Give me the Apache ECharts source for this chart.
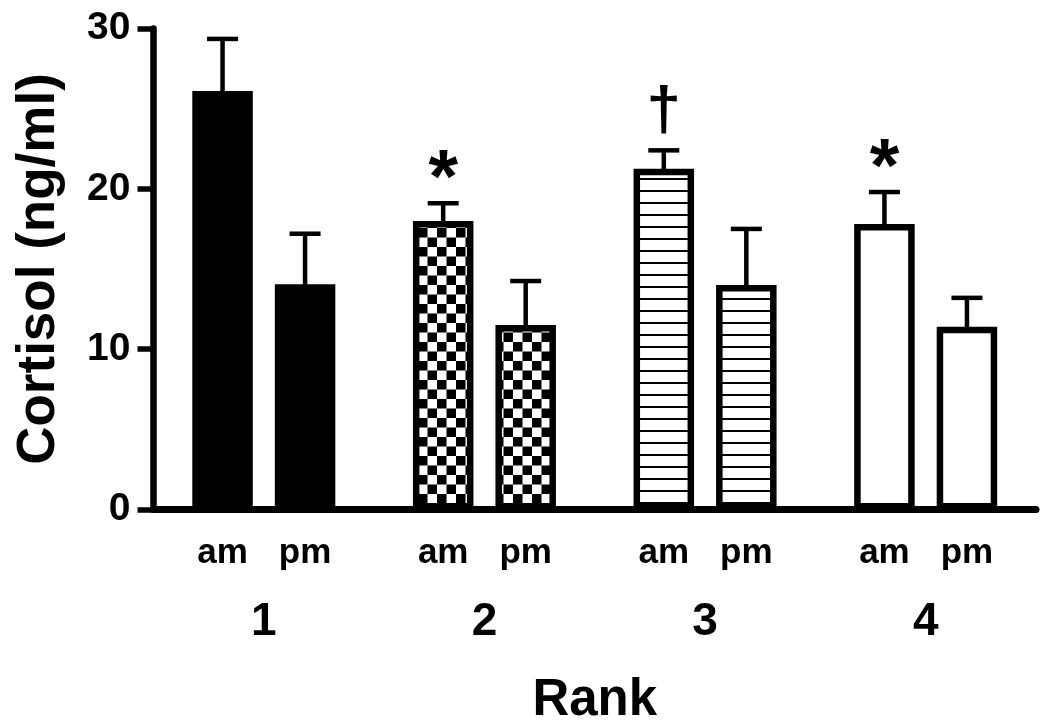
<!DOCTYPE html>
<html>
<head>
<meta charset="utf-8">
<script src="https://cdn.jsdelivr.net/npm/echarts@6/dist/echarts.min.js"></script>
<style>
html,body{margin:0;padding:0;background:#fff;}
#chart{width:1050px;height:726px;}
</style>
</head>
<body>
<div id="chart"></div>
<script>
// ---- data ----
var categories = ['1', '2', '3', '4'];
var seriesNames = ['am', 'pm'];
var amMean = [26.1, 18.0, 21.25, 17.8];
var amUpper = [29.35, 19.1, 22.4, 19.8];
var pmMean = [14.05, 11.5, 14.0, 11.4];
var pmUpper = [17.2, 14.25, 17.5, 13.2];
var annotations = ['', '*', '\u2020', '*'];
var yTicks = [0, 10, 20, 30];

// ---- styles ----
var FONT = "'Liberation Sans', Arial, Helvetica, sans-serif";
var BAR_W = 60.5, GAP_RATIO = 0.364, BORDER = 6.5;

function makeChecker() {
  var c = document.createElement('canvas');
  var s = 9.5;
  c.width = 19; c.height = 19;
  var ctx = c.getContext('2d');
  ctx.fillStyle = '#fff'; ctx.fillRect(0, 0, 19, 19);
  ctx.fillStyle = '#000';
  ctx.fillRect(0, 0, s, s);
  ctx.fillRect(s, s, s, s);
  return c;
}
function makeLines() {
  var c = document.createElement('canvas');
  c.width = 12; c.height = 12;
  var ctx = c.getContext('2d');
  ctx.fillStyle = '#fff'; ctx.fillRect(0, 0, 12, 12);
  ctx.fillStyle = '#000';
  ctx.fillRect(0, 10, 12, 2);
  return c;
}
var fills = [
  '#000',
  { image: makeChecker(), repeat: 'repeat' },
  { image: makeLines(), repeat: 'repeat' },
  '#fff'
];

function barData(vals) {
  return vals.map(function (v, i) {
    return { value: v, itemStyle: { color: fills[i], borderColor: '#000', borderWidth: BORDER } };
  });
}
function errData(mean, upper) {
  return mean.map(function (m, i) { return [i, m, upper[i]]; });
}
function errRender(sign, withNotes) {
  return function (params, api) {
    var i = api.value(0);
    var pM = api.coord([i, api.value(1)]);
    var pU = api.coord([i, api.value(2)]);
    var off = sign * (BAR_W + BAR_W * GAP_RATIO) / 2;
    var cx = pM[0] + off;
    var children = [
      { type: 'line', shape: { x1: cx, y1: pM[1] + 4, x2: cx, y2: pU[1] }, style: { stroke: '#000', lineWidth: 4.5 } },
      { type: 'line', shape: { x1: cx - 15.5, y1: pU[1], x2: cx + 15.5, y2: pU[1] }, style: { stroke: '#000', lineWidth: 4.5 } }
    ];
    if (withNotes && annotations[params.dataIndex]) {
      var t = annotations[params.dataIndex];
      var isStar = t === '*';
      children.push({
        type: 'text',
        style: {
          text: t, x: cx, y: pU[1] - (isStar ? 22 : 38),
          textAlign: 'center', textVerticalAlign: 'middle',
          fill: '#000',
          font: 'bold ' + (isStar ? 76 : 62) + 'px ' + FONT
        }
      });
    }
    return { type: 'group', children: children };
  };
}

var chart = echarts.init(document.getElementById('chart'), null, { renderer: 'canvas' });
chart.setOption({
  animation: false,
  backgroundColor: '#fff',
  grid: { left: 153.5, right: 14, top: 28.5, bottom: 216.5, containLabel: false, outerBoundsMode: 'none' },
  xAxis: {
    type: 'category',
    data: categories,
    name: 'Rank',
    nameLocation: 'middle',
    nameGap: 166,
    nameTextStyle: { fontFamily: FONT, fontWeight: 'bold', fontSize: 51, color: '#000' },
    axisLine: { lineStyle: { color: '#000', width: 7 } },
    axisTick: { show: false },
    axisLabel: { margin: 90, fontFamily: FONT, fontWeight: 'bold', fontSize: 46, color: '#000' }
  },
  yAxis: {
    type: 'value',
    min: 0, max: 30, interval: 10,
    name: 'Cortisol (ng/ml)',
    nameLocation: 'middle',
    nameGap: 88,
    nameTextStyle: { fontFamily: FONT, fontWeight: 'bold', fontSize: 53, color: '#000' },
    axisLine: { show: true, lineStyle: { color: '#000', width: 6.5 } },
    axisTick: { show: true, length: 16, lineStyle: { color: '#000', width: 5.5 } },
    splitLine: { show: false },
    axisLabel: {
      margin: 23, fontFamily: FONT, fontWeight: 'bold', fontSize: 39, color: '#000',
      formatter: function (v) { return yTicks.indexOf(v) >= 0 ? String(v) : ''; }
    }
  },
  series: [
    {
      type: 'custom', name: 'amErr', z: 1,
      renderItem: errRender(-1, true),
      data: errData(amMean, amUpper),
      encode: { x: 0, y: [1, 2] }
    },
    {
      type: 'custom', name: 'pmErr', z: 1,
      renderItem: errRender(1, false),
      data: errData(pmMean, pmUpper),
      encode: { x: 0, y: [1, 2] }
    },
    {
      type: 'bar', name: seriesNames[0], z: 3,
      barWidth: BAR_W, barGap: (GAP_RATIO * 100) + '%',
      data: barData(amMean),
      label: { show: true, position: 'bottom', distance: 26, formatter: seriesNames[0],
        fontFamily: FONT, fontWeight: 'bold', fontSize: 35, color: '#000' }
    },
    {
      type: 'bar', name: seriesNames[1], z: 3,
      barWidth: BAR_W, barGap: (GAP_RATIO * 100) + '%',
      data: barData(pmMean),
      label: { show: true, position: 'bottom', distance: 26, formatter: seriesNames[1],
        fontFamily: FONT, fontWeight: 'bold', fontSize: 35, color: '#000' }
    }
  ]
});
</script>
</body>
</html>
